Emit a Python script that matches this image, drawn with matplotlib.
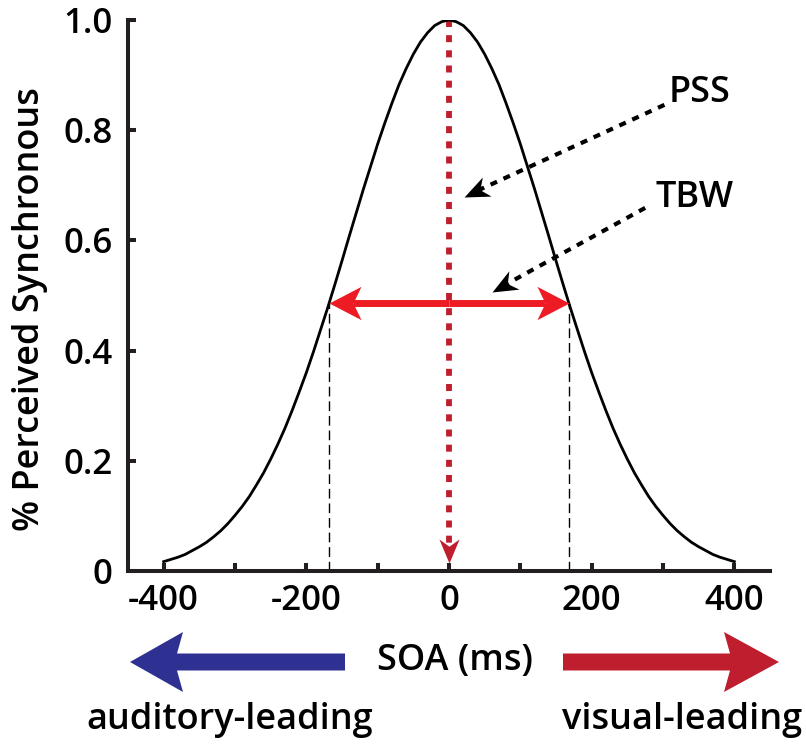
import numpy as np
import matplotlib
matplotlib.use("Agg")
import matplotlib.pyplot as plt
from matplotlib.path import Path
from matplotlib.markers import MarkerStyle
from matplotlib.transforms import Affine2D
from matplotlib.patches import Polygon

# values (every 10 ms)
soa = list(range(-400, 401, 10))
p_right = [1.0, 0.997, 0.990, 0.977, 0.960, 0.938, 0.912, 0.883, 0.849, 0.813,
           0.775, 0.734, 0.693, 0.650, 0.607, 0.563, 0.520, 0.478, 0.438, 0.398,
           0.360, 0.325, 0.291, 0.259, 0.230, 0.203, 0.178, 0.156, 0.135, 0.117,
           0.101, 0.086, 0.073, 0.062, 0.052, 0.044, 0.037, 0.030, 0.025, 0.021,
           0.017]
p_sync = p_right[:0:-1] + p_right
pss = 0
tbw_edges = [-168, 168]
tbw_level = 0.487
x_ticks = [-400, -300, -200, -100, 0, 100, 200, 300, 400]
x_labels = ["-400", "", "-200", "", "0", "", "200", "", "400"]
y_ticks = [0, 0.2, 0.4, 0.6, 0.8, 1.0]
y_labels = ["0", "0.2", "0.4", "0.6", "0.8", "1.0"]

W, H, DPI = 806, 744, 100
AX_COL = "#231f20"
DARK_RED = "#be1e2d"
RED = "#ed1c24"
BLUE = "#2e3192"
FS = 26

plt.rcParams["font.family"] = ["Open Sans", "DejaVu Sans"]
plt.rcParams["font.weight"] = "semibold"

fig = plt.figure(figsize=(W / DPI, H / DPI), dpi=DPI)
ax = fig.add_axes([128 / W, (H - 571) / H, 642 / W, 551 / H])
ax.set_xlim(-450, 450)
ax.set_ylim(0, 1.0)


def head_marker(angle, w=0.42, notch=0.7):
    verts = [(0, 0), (-1, w), (-notch, 0), (-1, -w), (0, 0)]
    codes = [Path.MOVETO, Path.LINETO, Path.LINETO, Path.LINETO, Path.CLOSEPOLY]
    return MarkerStyle(Path(verts, codes), transform=Affine2D().rotate_deg(angle))


def arrow(start, tip, color, lw, dashes, head_px, w=0.42, notch=0.7):
    p0 = ax.transData.transform(start)
    p1 = ax.transData.transform(tip)
    d = p1 - p0
    u = d / np.hypot(*d)
    ang = np.degrees(np.arctan2(d[1], d[0]))
    end = ax.transData.inverted().transform(p1 - u * head_px * notch)
    kw = dict(color=color, lw=lw, solid_capstyle="butt")
    if dashes is not None:
        kw["dashes"] = dashes
    ax.plot([start[0], end[0]], [start[1], end[1]], **kw)
    ax.plot([tip[0]], [tip[1]], marker=head_marker(ang, w, notch),
            ms=2 * head_px * 72 / DPI, color=color, mew=0, zorder=5)


# psychometric curve
ax.plot(soa, p_sync, color="black", lw=2.0, zorder=3)

# TBW borders
for e in tbw_edges:
    ax.plot([e, e], [0, tbw_level], color="black", lw=1.0, dashes=(7, 3.5))

# PSS arrow
arrow((pss, 1.0), (pss, 0.015), DARK_RED, 4.2, (1.2, 1.4), 24, w=0.42)

# TBW double arrow
mid = (0, tbw_level)
arrow(mid, (tbw_edges[1], tbw_level), RED, 5.0, None, 32, w=0.52, notch=0.75)
arrow(mid, (tbw_edges[0], tbw_level), RED, 5.0, None, 32, w=0.52, notch=0.75)

# annotation arrows
arrow((302, 0.846), (21, 0.679), "black", 3.0, (1.7, 1.7), 25, w=0.42)
arrow((275, 0.659), (60, 0.506), "black", 3.0, (1.7, 1.7), 25, w=0.42)
ax.text(308, 0.867, "PSS", fontsize=FS, ha="left", va="center")
ax.text(289, 0.677, "TBW", fontsize=FS, ha="left", va="center")

# axes styling
for s in ["top", "right"]:
    ax.spines[s].set_visible(False)
for s in ["left", "bottom"]:
    ax.spines[s].set_linewidth(2.9)
    ax.spines[s].set_color(AX_COL)
ax.set_xticks(x_ticks)
ax.set_xticklabels(x_labels)
ax.set_yticks(y_ticks)
ax.set_yticklabels(y_labels)
ax.tick_params(direction="in", length=5.8, width=2.9, color=AX_COL,
               labelsize=25)
ax.tick_params(axis="x", pad=9)
ax.tick_params(axis="y", pad=11)
ax.set_ylabel("% Perceived Synchronous", fontsize=FS, fontweight="semibold")
ax.yaxis.set_label_coords(-0.125, 0.475)


def fx(px):
    return px / W


def fy(py):
    return (H - py) / H


# SOA direction arrows below the axis
def big_arrow(x_tail, x_tip, x_back, yc, color):
    s = 8.5
    h = 30
    notch = x_back - np.sign(x_back - x_tip) * 6
    pts = [(x_tip, yc), (x_back, yc - h), (notch, yc - s),
           (x_tail, yc - s), (x_tail, yc + s), (notch, yc + s), (x_back, yc + h)]
    fig.patches.append(Polygon([(fx(a), fy(b)) for a, b in pts], closed=True,
                               transform=fig.transFigure, facecolor=color,
                               edgecolor="none"))


big_arrow(345, 130, 183, 662, BLUE)
big_arrow(563, 779, 724, 662, DARK_RED)

fig.text(fx(455), fy(661), "SOA (ms)", fontsize=FS, ha="center", va="center")
fig.text(fx(230), fy(720), "auditory-leading", fontsize=FS, ha="center", va="center")
fig.text(fx(682), fy(720), "visual-leading", fontsize=FS, ha="center", va="center")

fig.savefig("out.png", dpi=DPI)
